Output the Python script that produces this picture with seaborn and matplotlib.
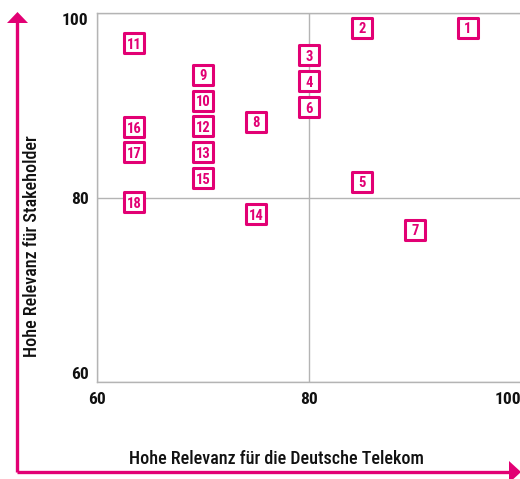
import pandas as pd
import seaborn as sns
import matplotlib.pyplot as plt

# materiality matrix: topic number, relevance for Telekom (x), for stakeholders (y)
topics = [1, 2, 3, 4, 5, 6, 7, 8, 9, 10, 11, 12, 13, 14, 15, 16, 17, 18]
telekom = [95, 85, 80, 80, 85, 80, 90, 75, 70, 70, 63.5, 70, 70, 75, 70, 63.5, 63.5, 63.5]
stakeholder = [98.4, 98.4, 95.4, 92.6, 81.7, 89.8, 76.5, 88.2, 93.3, 90.5,
               96.7, 87.7, 84.9, 78.2, 82.1, 87.6, 84.9, 79.5]
ticks = [60, 80, 100]

magenta = '#E20074'
grey = '#b4b4b4'

df = pd.DataFrame({'topic': topics, 'x': telekom, 'y': stakeholder})

sns.set_theme(style='white')
plt.rcParams['font.family'] = ['Roboto Condensed', 'DejaVu Sans']

fig = plt.figure(figsize=(5.2, 4.79), dpi=100)

# decoration layer for the two magenta arrows (figure pixel coords)
deco = fig.add_axes([0, 0, 1, 1])
deco.set_xlim(0, 520)
deco.set_ylim(479, 0)
deco.axis('off')
deco.plot([17, 17], [472, 20], color=magenta, lw=2.4, solid_capstyle='butt')
deco.plot([17, 512], [472, 472], color=magenta, lw=2.4, solid_capstyle='butt')
deco.fill([7, 28, 17.5], [23, 23, 12], color=magenta, lw=0)
deco.fill([509, 509, 521], [461, 483, 472], color=magenta, lw=0)

ax = fig.add_axes([97 / 520, 1 - 382 / 479, 424 / 520, 369 / 479])
sns.scatterplot(data=df, x='x', y='y', marker='s', s=200, color='white',
                edgecolor=magenta, linewidth=2.2, zorder=3, clip_on=False, ax=ax)
for _, r in df.iterrows():
    ax.text(r['x'], r['y'], str(int(r['topic'])), color=magenta, fontsize=10.5,
            fontweight='bold', ha='center', va='center_baseline', zorder=4)

ax.set_xlim(60, 100)
ax.set_ylim(60, 100)
ax.set_xticks(ticks)
ax.set_yticks(ticks)
ax.set_xticklabels([str(t) for t in ticks])
ax.set_yticklabels([str(t) for t in ticks])
ax.grid(True, color=grey, lw=1)
ax.tick_params(length=0, labelsize=12.5, labelcolor='#111111')
ax.tick_params(axis='x', pad=7)
ax.tick_params(axis='y', pad=6)
for lab in ax.get_xticklabels() + ax.get_yticklabels():
    lab.set_fontweight('bold')
xl = ax.get_xticklabels()
xl[-1].set_ha('right')
yl = ax.get_yticklabels()
yl[0].set_va('bottom')
yl[-1].set_va('top')
for side in ['top', 'left', 'bottom']:
    ax.spines[side].set_color(grey)
    ax.spines[side].set_linewidth(1)
ax.spines['right'].set_visible(False)
ax.set_xlabel('')
ax.set_ylabel('')

fig.text(276 / 520, 1 - 459 / 479, 'Hohe Relevanz für die Deutsche Telekom',
         ha='center', va='center', fontsize=13, fontweight='medium', color='#111111')
fig.text(32 / 520, 1 - 246 / 479, 'Hohe Relevanz für Stakeholder', rotation=90,
         ha='center', va='center', fontsize=13, fontweight='medium', color='#111111')

fig.savefig('out.png', dpi=100)
